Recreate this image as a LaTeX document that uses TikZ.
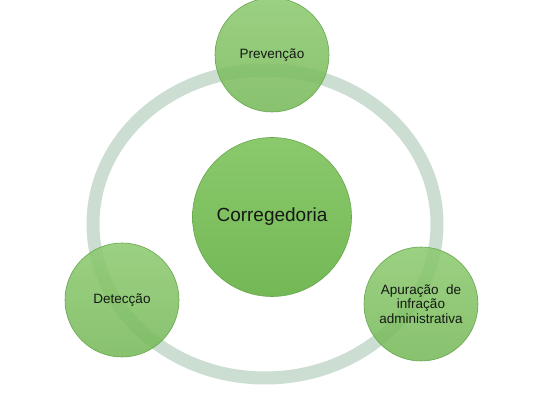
\documentclass[tikz,border=0pt]{standalone}
\usepackage{fontspec}
\setmainfont{Liberation Sans}
\definecolor{ringc}{RGB}{204,222,209}
\definecolor{greentop}{RGB}{138,201,108}
\definecolor{greenbot}{RGB}{116,184,86}
\definecolor{greenedge}{RGB}{104,166,78}
\definecolor{txt}{RGB}{20,25,20}
\tikzset{
  bubble/.style={circle, draw=greenedge, line width=0.6pt, top color=greentop, bottom color=greenbot,
    text=txt, align=center, inner sep=0pt, minimum size=#1},
  sat/.style={bubble=114pt, fill opacity=0.85, text opacity=1, font=\fontsize{13.5}{14.5}\selectfont},
  ringstyle/.style={draw=ringc, line width=13pt}
}
\begin{document}
\begin{tikzpicture}[x=1pt,y=1pt]
\useasboundingbox (0,0) rectangle (547,407);
\fill[white] (0,0) rectangle (547,407);
\draw[ringstyle] (265,183) ellipse [x radius=172, y radius=154];
\node[bubble=159pt, font=\fontsize{19}{22}\selectfont] (core) at (272,190) {Corregedoria};
\node[sat] (prev) at (272,352) {Prevenção};
\node[sat] (detec) at (122,107) {Detecção};
\node[sat] (apur) at (421,103) {Apuração\ \ de\\infração\\administrativa};
\end{tikzpicture}
\end{document}
